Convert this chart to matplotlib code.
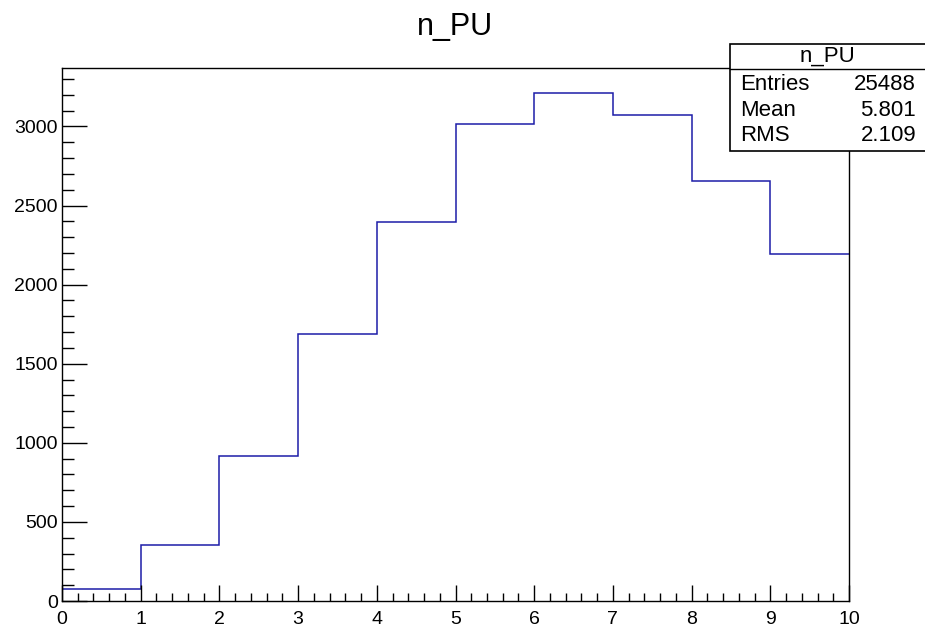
import matplotlib
matplotlib.use('Agg')
import matplotlib.pyplot as plt
from matplotlib.patches import Rectangle
from matplotlib.ticker import MultipleLocator
import numpy as np

plt.rcParams['font.family'] = ['Liberation Sans', 'DejaVu Sans']

# histogram n_PU, one bin per unit from 0 to 10
bin_edges = [0, 1, 2, 3, 4, 5, 6, 7, 8, 9, 10]
counts = [76, 354, 918, 1690, 2399, 3013, 3209, 3070, 2658, 2196]

stats_title = 'n_PU'
stats_names = ['Entries', 'Mean', 'RMS']
stats_values = ['25488', '5.801', '2.109']

W, H = 925, 626
PT = 0.72  # px -> pt at dpi 100
fig = plt.figure(figsize=(W / 100, H / 100), dpi=100)

# axes frame in pixel coords of the reference
x0, x1, y_top, y_bot = 62, 849, 68, 601
ax = fig.add_axes([x0 / W, (H - y_bot) / H, (x1 - x0) / W, (y_bot - y_top) / H])

ax.stairs(counts, bin_edges, baseline=None, color='#1c1ca8', linewidth=1.1)

ax.set_xlim(0, 10)
ax.set_ylim(0, max(counts) * 1.05)

ax.xaxis.set_major_locator(MultipleLocator(1))
ax.xaxis.set_minor_locator(MultipleLocator(0.2))
ax.yaxis.set_major_locator(MultipleLocator(500))
ax.yaxis.set_minor_locator(MultipleLocator(100))

ax.tick_params(axis='both', which='both', direction='in', top=False, right=False,
               labelsize=14, colors='black', width=1.0)
ax.tick_params(axis='x', which='major', length=16 * PT, pad=7)
ax.tick_params(axis='x', which='minor', length=8 * PT)
ax.tick_params(axis='y', which='major', length=25 * PT, pad=3)
ax.tick_params(axis='y', which='minor', length=12 * PT)

for sp in ax.spines.values():
    sp.set_linewidth(1.0)

fig.text((x0 + x1) / 2 / W, 1 - 27 / H, 'n_PU', ha='center', va='center', fontsize=22)

# stats box
bx0, bx1, by_top, by_sep, by_bot = 730, 926, 44, 69, 151
fig.patches.append(Rectangle((bx0 / W, (H - by_bot) / H), (bx1 - bx0) / W, (by_bot - by_top) / H,
                             transform=fig.transFigure, facecolor='white', edgecolor='black',
                             linewidth=1.2, zorder=5))
fig.add_artist(plt.Line2D([bx0 / W, bx1 / W], [(H - by_sep) / H] * 2,
                          transform=fig.transFigure, color='black', linewidth=1.0, zorder=6))
fig.text((bx0 + 925) / 2 / W, 1 - 56 / H, stats_title, ha='center', va='center', fontsize=16, zorder=7)
rows_y = [85, 111, 136]
for name, val, yy in zip(stats_names, stats_values, rows_y):
    fig.text(740 / W, 1 - yy / H, name, ha='left', va='center', fontsize=16, zorder=7)
    fig.text(916 / W, 1 - yy / H, val, ha='right', va='center', fontsize=16, zorder=7)

fig.savefig('out.png', dpi=100)
